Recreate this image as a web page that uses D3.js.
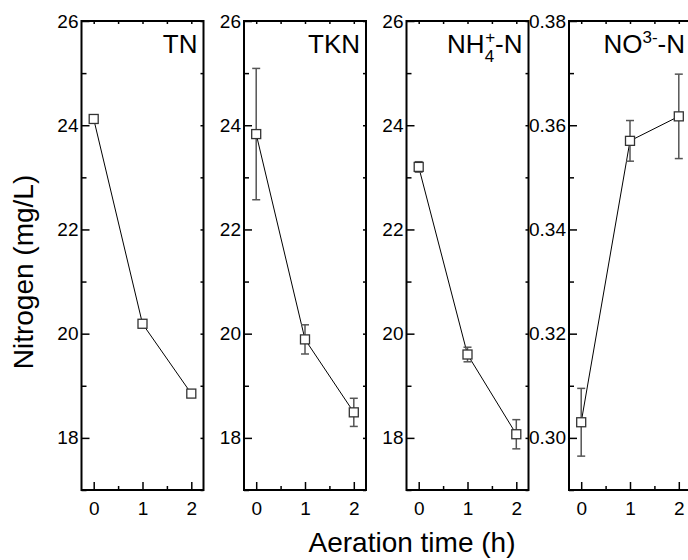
<!DOCTYPE html>
<html>
<head>
<meta charset="utf-8">
<script src="https://cdn.jsdelivr.net/npm/d3@7"></script>
<style>
  body { margin: 0; background: #fff; }
  svg { font-family: "Liberation Sans", Arial, sans-serif; }
</style>
</head>
<body>
<div id="chart"></div>
<script>
// data
const times = [0, 1, 2];
const xTicks = [0, 1, 2];

const tnMean = [24.12, 20.19, 18.85];
const tnErr = [0, 0, 0];
const tknMean = [23.83, 19.89, 18.49];
const tknErr = [1.26, 0.28, 0.27];
const nh4Mean = [23.2, 19.6, 18.07];
const nh4Err = [0.1, 0.14, 0.28];
const no3Mean = [0.303, 0.357, 0.3617];
const no3Err = [0.0065, 0.0039, 0.0081];

const nTicks = [18, 20, 22, 24, 26];
const nMinor = [17, 19, 21, 23, 25];
const no3Ticks = [0.30, 0.32, 0.34, 0.36, 0.38];
const no3Minor = [0.29, 0.31, 0.33, 0.35, 0.37];

const panels = [
  { mean: tnMean, err: tnErr, domain: [17, 26], ticks: nTicks, minor: nMinor, fmt: d3.format("d") },
  { mean: tknMean, err: tknErr, domain: [17, 26], ticks: nTicks, minor: nMinor, fmt: d3.format("d") },
  { mean: nh4Mean, err: nh4Err, domain: [17, 26], ticks: nTicks, minor: nMinor, fmt: d3.format("d") },
  { mean: no3Mean, err: no3Err, domain: [0.29, 0.38], ticks: no3Ticks, minor: no3Minor, fmt: d3.format(".2f") }
];

const W = 688, H = 560;
const yTop = 21, yBottom = 490, pw = 122, left0 = 81.5, step = 162.5;

const svg = d3.select("#chart").append("svg")
  .attr("width", W).attr("height", H);

panels.forEach(function (p, i) {
  const x0 = left0 + i * step;
  const x = d3.scaleLinear().domain([-0.25, 2.25]).range([x0, x0 + pw]);
  const y = d3.scaleLinear().domain(p.domain).range([yBottom, yTop]);
  const g = svg.append("g");

  // minor ticks left
  g.append("g").attr("transform", `translate(${x0},0)`)
    .call(d3.axisLeft(y).tickValues(p.minor).tickSize(-5).tickFormat(""))
    .call(a => a.select(".domain").remove());
  // major left
  g.append("g").attr("transform", `translate(${x0},0)`)
    .call(d3.axisLeft(y).tickValues(p.ticks).tickSize(-8).tickPadding(3).tickFormat(p.fmt))
    .call(a => a.select(".domain").remove())
    .call(a => a.selectAll("text").attr("font-size", 19).attr("fill", "#000").attr("font-family", null));
  // right mirror ticks
  g.append("g").attr("transform", `translate(${x0 + pw},0)`)
    .call(d3.axisRight(y).tickValues(p.ticks.concat(p.minor)).tickSize(-3).tickFormat(""))
    .call(a => a.select(".domain").remove());
  // bottom
  g.append("g").attr("transform", `translate(0,${yBottom})`)
    .call(d3.axisBottom(x).tickValues(xTicks).tickSize(-8).tickPadding(12).tickFormat(d3.format("d")))
    .call(a => a.select(".domain").remove())
    .call(a => a.selectAll("text").attr("font-size", 19).attr("fill", "#000").attr("font-family", null));
  g.append("g").attr("transform", `translate(0,${yBottom})`)
    .call(d3.axisBottom(x).tickValues([0.5, 1.5]).tickSize(-4).tickFormat(""))
    .call(a => a.select(".domain").remove());
  // top mirror ticks
  g.append("g").attr("transform", `translate(0,${yTop})`)
    .call(d3.axisTop(x).tickValues([0, 0.5, 1, 1.5, 2]).tickSize(-3).tickFormat(""))
    .call(a => a.select(".domain").remove());

  g.selectAll(".tick line").attr("stroke", "#000").attr("stroke-width", 1.5);

  // frame
  g.append("rect")
    .attr("x", x0).attr("y", yTop)
    .attr("width", pw).attr("height", yBottom - yTop)
    .attr("fill", "none").attr("stroke", "#000").attr("stroke-width", 2);

  const pts = times.map((t, j) => ({ t: t, v: p.mean[j], e: p.err[j] }));

  // connecting line
  g.append("path")
    .datum(pts)
    .attr("fill", "none").attr("stroke", "#000").attr("stroke-width", 1)
    .attr("d", d3.line().x(d => x(d.t)).y(d => y(d.v)));

  // error bars
  const eb = g.selectAll(".eb").data(pts.filter(d => d.e > 0)).join("g")
    .attr("stroke", "#555").attr("stroke-width", 1.5);
  eb.append("line")
    .attr("x1", d => x(d.t)).attr("x2", d => x(d.t))
    .attr("y1", d => y(d.v - d.e)).attr("y2", d => y(d.v + d.e));
  eb.append("line")
    .attr("x1", d => x(d.t) - 4).attr("x2", d => x(d.t) + 4)
    .attr("y1", d => y(d.v + d.e)).attr("y2", d => y(d.v + d.e));
  eb.append("line")
    .attr("x1", d => x(d.t) - 4).attr("x2", d => x(d.t) + 4)
    .attr("y1", d => y(d.v - d.e)).attr("y2", d => y(d.v - d.e));

  // markers
  g.selectAll(".mk").data(pts).join("rect")
    .attr("x", d => x(d.t) - 4.5).attr("y", d => y(d.v) - 4.5)
    .attr("width", 9).attr("height", 9)
    .attr("fill", "#fff").attr("stroke", "#333").attr("stroke-width", 1.3);

  // panel title
  const tt = g.append("text")
    .attr("x", x0 + pw - 6).attr("y", 53)
    .attr("text-anchor", "end").attr("font-size", 26).attr("fill", "#000");
  if (i === 0) tt.text("TN");
  if (i === 1) tt.text("TKN");
  if (i === 2) {
    tt.append("tspan").text("NH");
    tt.append("tspan").attr("font-size", 17).attr("dy", 9).text("4");
    tt.append("tspan").attr("font-size", 17).attr("dx", -9).attr("dy", -19).text("+");
    tt.append("tspan").attr("dy", 10).text("-N");
  }
  if (i === 3) {
    tt.append("tspan").text("NO");
    tt.append("tspan").attr("font-size", 17).attr("dy", -10).text("3-");
    tt.append("tspan").attr("dy", 10).text("-N");
  }
});

// axis titles
svg.append("text")
  .attr("x", 412).attr("y", 552)
  .attr("text-anchor", "middle").attr("font-size", 28)
  .text("Aeration time (h)");

svg.append("text")
  .attr("transform", "translate(33,272) rotate(-90)")
  .attr("text-anchor", "middle").attr("font-size", 28)
  .text("Nitrogen (mg/L)");
</script>
</body>
</html>
